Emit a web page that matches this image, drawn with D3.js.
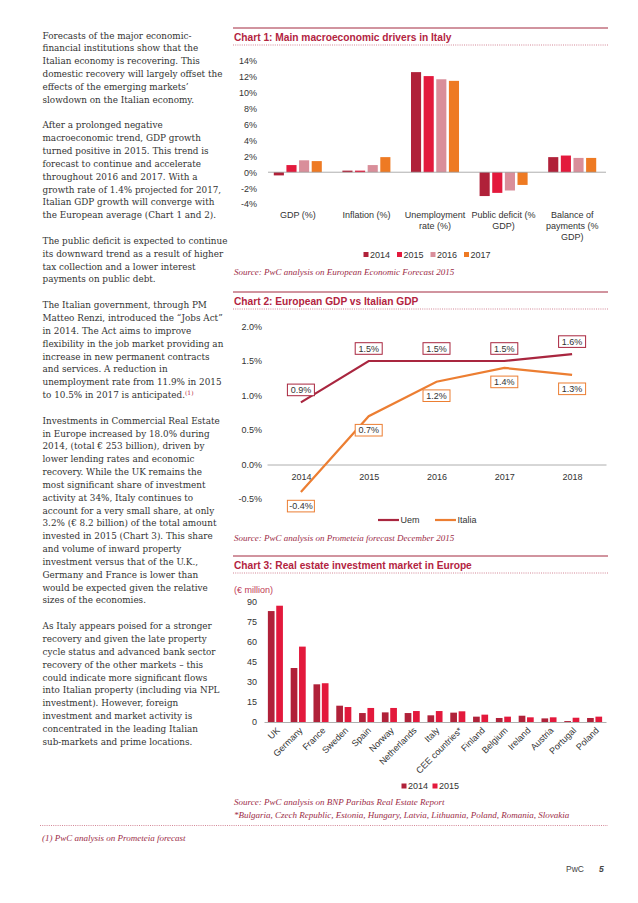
<!DOCTYPE html>
<html lang="en">
<head>
<meta charset="UTF-8">
<title>Italy - macro drivers and real estate</title>
<style>
  html, body { margin: 0; padding: 0; background: #fff; }
  svg { display: block; }
</style>
</head>
<body>
<div id="page"></div>
<script src="https://d3js.org/d3.v7.min.js"></script>
<script>
// ---- Chart 1 data
const macroCategories = ["GDP (%)", "Inflation (%)", "Unemployment|rate (%)", "Public deficit (%|GDP)", "Balance of|payments (%|GDP)"];
const macroYears = ["2014", "2015", "2016", "2017"];
const macro2014 = [-0.4, 0.2, 12.6, -3.0, 1.9];
const macro2015 = [0.9, 0.2, 12.1, -2.6, 2.1];
const macro2016 = [1.5, 0.9, 11.7, -2.3, 1.8];
const macro2017 = [1.4, 1.9, 11.5, -1.6, 1.8];
const macroTicks = [-4, -2, 0, 2, 4, 6, 8, 10, 12, 14];

// ---- Chart 2 data
const gdpYears = ["2014", "2015", "2016", "2017", "2018"];
const uemGdp = [0.9, 1.5, 1.5, 1.5, 1.6];
const italiaGdp = [-0.4, 0.7, 1.2, 1.4, 1.3];
const gdpTicks = [-0.5, 0, 0.5, 1, 1.5, 2];

// ---- Chart 3 data
const reCountries = ["UK", "Germany", "France", "Sweden", "Spain", "Norway", "Netherlands", "Italy",
  "CEE countries*", "Finland", "Belgium", "Ireland", "Austria", "Portugal", "Poland"];
const reYears = ["2014", "2015"];
const re2014 = [83, 40.4, 28.2, 12.2, 6.7, 7.2, 6.7, 5.0, 7.0, 4.0, 3.0, 4.7, 2.7, 0.7, 3.0];
const re2015 = [87, 56.4, 29, 11.2, 10.5, 10.5, 8.2, 8.2, 8.0, 5.5, 4.0, 3.5, 3.5, 3.2, 4.0];
const reTicks = [0, 15, 30, 45, 60, 75, 90];

// ---- body text, left column (one entry per printed line, "" = paragraph gap)
const bodyLines = [
  "Forecasts of the major economic-",
  "financial institutions show that the",
  "Italian economy is recovering. This",
  "domestic recovery will largely offset the",
  "effects of the emerging markets’",
  "slowdown on the Italian economy.",
  "",
  "After a prolonged negative",
  "macroeconomic trend, GDP growth",
  "turned positive in 2015. This trend is",
  "forecast to continue and accelerate",
  "throughout 2016 and 2017. With a",
  "growth rate of 1.4% projected for 2017,",
  "Italian GDP growth will converge with",
  "the European average (Chart 1 and 2).",
  "",
  "The public deficit is expected to continue",
  "its downward trend as a result of higher",
  "tax collection and a lower interest",
  "payments on public debt.",
  "",
  "The Italian government, through PM",
  "Matteo Renzi, introduced the “Jobs Act”",
  "in 2014. The Act aims to improve",
  "flexibility in the job market providing an",
  "increase in new permanent contracts",
  "and services. A reduction in",
  "unemployment rate from 11.9% in 2015",
  "to 10.5% in 2017 is anticipated.^(1)",
  "",
  "Investments in Commercial Real Estate",
  "in Europe increased by 18.0% during",
  "2014, (total € 253 billion), driven by",
  "lower lending rates and economic",
  "recovery. While the UK remains the",
  "most significant share of investment",
  "activity at 34%, Italy continues to",
  "account for a very small share, at only",
  "3.2% (€ 8.2 billion) of the total amount",
  "invested in 2015 (Chart 3). This share",
  "and volume of inward property",
  "investment versus that of the U.K.,",
  "Germany and France is lower than",
  "would be expected given the relative",
  "sizes of the economies.",
  "",
  "As Italy appears poised for a stronger",
  "recovery and given the late property",
  "cycle status and advanced bank sector",
  "recovery of the other markets – this",
  "could indicate more significant flows",
  "into Italian property (including via NPL",
  "investment). However, foreign",
  "investment and market activity is",
  "concentrated in the leading Italian",
  "sub-markets and prime locations."
];

const W = 638, H = 903;
const sans = '"Liberation Sans", Arial, sans-serif';
const serif = '"DejaVu Serif", "Liberation Serif", serif';
const noteSerif = '"Liberation Serif", "DejaVu Serif", serif';
const titleRed = "#b3243f";
const noteRed = "#9c2c47";
const yearColors = { "2014": "#b02139", "2015": "#e3193c", "2016": "#d98e9a", "2017": "#ee7a23" };
const uemColor = "#a9263f", italiaColor = "#ec7e32";

const svg = d3.select("#page").append("svg").attr("width", W).attr("height", H);
svg.append("rect").attr("width", W).attr("height", H).attr("fill", "#fff");

// left column text: size fitted so the reference's widest line spans ~180px
const probe = svg.append("text").attr("font-family", serif).attr("font-size", 10)
  .text("domestic recovery will largely offset the");
const bodySize = 10 * 180 / probe.node().getComputedTextLength();
probe.remove();

const body = svg.append("g").attr("font-family", serif).attr("font-size", bodySize).attr("fill", "#333");
bodyLines.forEach(function (line, i) {
  if (!line) return;
  const t = body.append("text").attr("x", 42.5).attr("y", 38.5 + i * 12.84);
  const parts = line.split("^");
  t.append("tspan").text(parts[0]);
  if (parts[1]) {
    t.append("tspan").attr("dy", -3.5).attr("font-size", 6).attr("fill", titleRed).text(parts[1]);
  }
});

function chartHeader(top, title) {
  svg.append("line").attr("x1", 233).attr("x2", 608).attr("y1", top).attr("y2", top)
    .attr("stroke", "#a3283f").attr("stroke-width", 1);
  svg.append("text").attr("x", 234).attr("y", top + 12.5)
    .attr("font-family", sans).attr("font-weight", "bold").attr("font-size", 10.2)
    .attr("fill", titleRed).text(title);
  svg.append("line").attr("x1", 233).attr("x2", 608).attr("y1", top + 17).attr("y2", top + 17)
    .attr("stroke", "#c8687c").attr("stroke-width", 0.8).attr("stroke-dasharray", "1,1.2");
}

function sourceNote(x, y, txt) {
  svg.append("text").attr("x", x).attr("y", y)
    .attr("font-family", noteSerif).attr("font-style", "italic").attr("font-size", 9)
    .attr("fill", noteRed).text(txt);
}

function styleAxis(g, size) {
  g.select(".domain").remove();
  g.selectAll("text").attr("font-family", sans).attr("font-size", size || 9).attr("fill", "#333");
}

function squareLegend(keys, startX, y, step) {
  const lg = svg.append("g");
  keys.forEach(function (k, i) {
    const x = startX + i * step;
    lg.append("rect").attr("x", x).attr("y", y - 2.5).attr("width", 5).attr("height", 5).attr("fill", yearColors[k]);
    lg.append("text").attr("x", x + 6.5).attr("y", y + 3.3)
      .attr("font-family", sans).attr("font-size", 9).attr("fill", "#333").text(k);
  });
}

// ================= Chart 1
chartHeader(28, "Chart 1: Main macroeconomic drivers in Italy");

const x1 = d3.scaleBand().domain(macroCategories).range([263.5, 606.5]).paddingInner(0.3).paddingOuter(0.15);
const x1s = d3.scaleBand().domain(macroYears).range([0, x1.bandwidth()]).paddingInner(0.2);
const y1 = d3.scaleLinear().domain([-4, 14]).range([204, 61]);
const macroSeries = { "2014": macro2014, "2015": macro2015, "2016": macro2016, "2017": macro2017 };

svg.append("g").attr("transform", "translate(257,0)")
  .call(d3.axisLeft(y1).tickValues(macroTicks).tickSize(0).tickPadding(0).tickFormat(d => d + "%"))
  .call(g => styleAxis(g, 9));

const g1 = svg.append("g");
macroCategories.forEach(function (c, ci) {
  macroYears.forEach(function (yr) {
    const v = macroSeries[yr][ci];
    g1.append("rect")
      .attr("x", x1(c) + x1s(yr))
      .attr("y", y1(Math.max(0, v)))
      .attr("width", x1s.bandwidth())
      .attr("height", Math.abs(y1(v) - y1(0)))
      .attr("fill", yearColors[yr]);
  });
});
svg.append("line").attr("x1", 268).attr("x2", 606).attr("y1", y1(0)).attr("y2", y1(0))
  .attr("stroke", "#9a9a9a").attr("stroke-width", 0.8);

macroCategories.forEach(function (c) {
  const t = svg.append("text").attr("text-anchor", "middle")
    .attr("font-family", sans).attr("font-size", 9).attr("fill", "#333");
  c.split("|").forEach(function (ln, i) {
    t.append("tspan").attr("x", x1(c) + x1.bandwidth() / 2).attr("y", 217.5 + i * 11).text(ln);
  });
});
squareLegend(macroYears, 363.5, 254.5, 33.5);
sourceNote(234, 275, "Source: PwC analysis on European Economic Forecast 2015");

// ================= Chart 2
chartHeader(292, "Chart 2: European GDP vs Italian GDP");

const x2 = d3.scalePoint().domain(gdpYears).range([267, 606]).padding(0.5);
const y2 = d3.scaleLinear().domain([-0.5, 2]).range([499, 326.5]);

svg.append("g").attr("transform", "translate(262,0)")
  .call(d3.axisLeft(y2).tickValues(gdpTicks).tickSize(0).tickPadding(0).tickFormat(d => d.toFixed(1) + "%"))
  .call(g => styleAxis(g, 9));

svg.append("g").attr("transform", "translate(0," + y2(0) + ")")
  .call(d3.axisBottom(x2).tickSize(0).tickPadding(9))
  .call(function (g) {
    g.select(".domain").attr("stroke", "#9a9a9a").attr("stroke-width", 0.8);
    g.selectAll("text").attr("font-family", sans).attr("font-size", 9).attr("fill", "#333");
  });

const line2 = d3.line().x((d, i) => x2(gdpYears[i])).y(d => y2(d));
svg.append("path").datum(italiaGdp).attr("d", line2).attr("fill", "none")
  .attr("stroke", italiaColor).attr("stroke-width", 2.2);
svg.append("path").datum(uemGdp).attr("d", line2).attr("fill", "none")
  .attr("stroke", uemColor).attr("stroke-width", 2.2);

function valueBoxes(values, color, offset) {
  values.forEach(function (v, i) {
    const g = svg.append("g").attr("transform", "translate(" + x2(gdpYears[i]) + "," + (y2(v) + offset) + ")");
    g.append("rect").attr("x", -13.5).attr("y", -5.8).attr("width", 27).attr("height", 11.6)
      .attr("fill", "#fff").attr("stroke", color).attr("stroke-width", 1);
    g.append("text").attr("text-anchor", "middle").attr("y", 3.2)
      .attr("font-family", sans).attr("font-size", 9).attr("fill", "#333").text(v.toFixed(1) + "%");
  });
}
valueBoxes(uemGdp, uemColor, -12.5);
valueBoxes(italiaGdp, italiaColor, 14);

[["Uem", uemColor, 378], ["Italia", italiaColor, 435]].forEach(function (d) {
  svg.append("line").attr("x1", d[2]).attr("x2", d[2] + 21).attr("y1", 520).attr("y2", 520)
    .attr("stroke", d[1]).attr("stroke-width", 2.2);
  svg.append("text").attr("x", d[2] + 22.5).attr("y", 523.3)
    .attr("font-family", sans).attr("font-size", 9).attr("fill", "#333").text(d[0]);
});
sourceNote(234, 540.5, "Source: PwC analysis on Prometeia forecast December 2015");

// ================= Chart 3
chartHeader(556, "Chart 3: Real estate investment market in Europe");
svg.append("text").attr("x", 234).attr("y", 592.5)
  .attr("font-family", sans).attr("font-size", 9).attr("fill", "#c03a55").text("(€ million)");

const x3 = d3.scaleBand().domain(reCountries).range([264, 606]).paddingInner(0.34).paddingOuter(0.17);
const x3s = d3.scaleBand().domain(reYears).range([0, x3.bandwidth()]).paddingInner(0.2);
const y3 = d3.scaleLinear().domain([0, 90]).range([722, 601.7]);
const reSeries = { "2014": re2014, "2015": re2015 };

svg.append("g").attr("transform", "translate(257,0)")
  .call(d3.axisLeft(y3).tickValues(reTicks).tickSize(0).tickPadding(0))
  .call(g => styleAxis(g, 9));

const g3 = svg.append("g");
reCountries.forEach(function (c, ci) {
  reYears.forEach(function (yr) {
    const v = reSeries[yr][ci];
    g3.append("rect")
      .attr("x", x3(c) + x3s(yr))
      .attr("y", y3(v))
      .attr("width", x3s.bandwidth())
      .attr("height", y3(0) - y3(v))
      .attr("fill", yearColors[yr]);
  });
});

svg.append("g").attr("transform", "translate(0," + y3(0) + ")")
  .call(d3.axisBottom(x3).tickSize(0))
  .call(function (g) {
    g.select(".domain").attr("stroke", "#9a9a9a").attr("stroke-width", 0.8);
    g.selectAll("text")
      .attr("x", 0).attr("y", 0).attr("dy", 0)
      .attr("text-anchor", "end")
      .attr("transform", "translate(5,9) rotate(-45)")
      .attr("font-family", sans).attr("font-size", 9).attr("fill", "#333");
  });

squareLegend(reYears, 401.5, 786, 31);
sourceNote(234, 805, "Source: PwC analysis on BNP Paribas Real Estate Report");
sourceNote(234, 817.5, "*Bulgaria, Czech Republic, Estonia, Hungary, Latvia, Lithuania, Poland, Romania, Slovakia");

// footnote and page footer
svg.append("line").attr("x1", 40).attr("x2", 608).attr("y1", 825.5).attr("y2", 825.5)
  .attr("stroke", "#c8687c").attr("stroke-width", 0.8).attr("stroke-dasharray", "1,1.2");
sourceNote(42, 841, "(1) PwC analysis on Prometeia forecast");
svg.append("text").attr("x", 566).attr("y", 872).attr("font-family", sans).attr("font-size", 8.5)
  .attr("fill", "#444").text("PwC");
svg.append("text").attr("x", 599).attr("y", 872).attr("font-family", sans).attr("font-size", 8.5)
  .attr("font-weight", "bold").attr("font-style", "italic").attr("fill", "#444").text("5");
</script>
</body>
</html>
